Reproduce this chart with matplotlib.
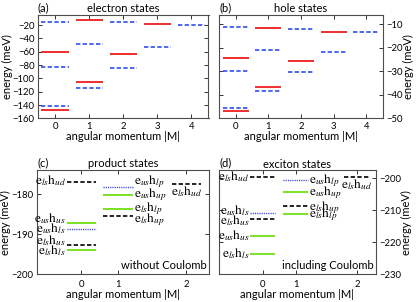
import numpy as np
import matplotlib
matplotlib.use("Agg")
import matplotlib.pyplot as plt

plt.rcParams['font.family'] = ['Lato', 'DejaVu Sans']
plt.rcParams['mathtext.fontset'] = 'stix'

# electron states (a)
elec_bright_m = [0, 0, 1, 1, 2, 3]
elec_bright_e = [-60, -147, -12, -106, -64, -18]
elec_dark_m = [0, 0, 0, 1, 1, 2, 2, 3, 4]
elec_dark_e = [-15, -83, -142, -49, -115, -16, -85, -53, -20]

# hole states (b)
hole_bright_m = [0, 0, 1, 1, 2, 3]
hole_bright_e = [-24.4, -46.9, -11.4, -36.7, -25.5, -13.3]
hole_dark_m = [0, 0, 0, 1, 1, 2, 2, 3, 4]
hole_dark_e = [-11.1, -30.0, -45.6, -20.8, -38.1, -11.8, -30.2, -21.8, -13.2]

# product / exciton states (c), (d)
pair_m = [0, 0, 0, 0, 0, 1, 1, 1, 1, 2]
pair_kind = ['dark', 'bright', 'dot', 'dark', 'bright',
             'dot', 'bright', 'bright', 'dark', 'dark']
pair_label = [r'$\mathrm{e}_{ls}\mathrm{h}_{ud}$', r'$\mathrm{e}_{us}\mathrm{h}_{us}$',
              r'$\mathrm{e}_{us}\mathrm{h}_{ls}$', r'$\mathrm{e}_{ls}\mathrm{h}_{us}$',
              r'$\mathrm{e}_{ls}\mathrm{h}_{ls}$', r'$\mathrm{e}_{us}\mathrm{h}_{lp}$',
              r'$\mathrm{e}_{us}\mathrm{h}_{up}$', r'$\mathrm{e}_{ls}\mathrm{h}_{lp}$',
              r'$\mathrm{e}_{ls}\mathrm{h}_{up}$', r'$\mathrm{e}_{ls}\mathrm{h}_{ud}$']
prod_e = [-177.0, -187.3, -188.7, -192.6, -193.9, -178.3, -180.2, -183.6, -185.4, -177.6]
exc_e = [-199.8, -218.0, -211.0, -212.9, -223.8, -200.5, -204.5, -211.3, -208.7, -199.8]

m_ticks = [0, 1, 2, 3, 4]
pair_ticks = [0, 1, 2]

# layout of the labels next to the levels (meV shift)
prod_dy = [0.3, 1.1, 0.0, 0.9, -0.3, 1.3, 0.1, 0.0, -1.0, -1.9]
exc_dy = [0.3, 0.0, 0.8, -0.5, 0.2, -0.2, 0.0, -0.1, -0.6, -2.1]
pair_pos = {0: 0.0, 1: 1.0, 2: 2.85}   # x position of each |M| column

RED = '#ee1c1c'
BLUE = '#2f4ff0'
GREEN = '#66dd00'
STYLE = {
    'dark': dict(color='k', linestyle=(0, (2.6, 1.4)), linewidth=1.2),
    'bright': dict(color=GREEN, linestyle='-', linewidth=1.2),
    'dot': dict(color='#3040e0', linestyle=(0, (0.8, 0.8)), linewidth=1.0),
}
FS = 8
TFS = 6.8
LFS = 9.5


def style_axes(ax, right=False):
    ax.tick_params(direction='in', length=3, width=0.7, top=True, right=True,
                   labelsize=TFS, pad=2.5, colors='0.2')
    ax.tick_params(labelcolor='k')
    for s in ax.spines.values():
        s.set_color('0.3')
        s.set_linewidth(0.8)
    if right:
        ax.yaxis.tick_right()
        ax.yaxis.set_ticks_position('both')
        ax.yaxis.set_label_position('right')
    ax.set_xlabel('angular momentum |M|', fontsize=FS, labelpad=0)
    ax.set_ylabel('energy (meV)', fontsize=FS, labelpad=0,
                  rotation=90)


def single_states(ax, bm, be, dm, de, tag, title, ylim, yticks, right):
    bm = np.array(bm)
    dm = np.array(dm)
    ax.hlines(be, bm - 0.4, bm + 0.4, color=RED, linewidth=1.3)
    ax.hlines(de, dm - 0.4, dm + 0.4, color=BLUE, linewidth=1.2,
              linestyles=[(0, (2.6, 1.4))])
    ax.set_xlim(-0.5, 4.5)
    ax.set_ylim(*ylim)
    ax.set_xticks(m_ticks)
    ax.set_yticks(yticks)
    style_axes(ax, right)
    ax.set_title(title, fontsize=FS, pad=2)
    ax.text(0.0, 1.015, tag, transform=ax.transAxes, fontsize=FS, va='bottom')


def pair_states(ax, energies, dys, tag, title, note, xlim, ylim, yticks, right, half):
    for m, e, kind, lab, dy in zip(pair_m, energies, pair_kind, pair_label, dys):
        x = pair_pos[m]
        ax.hlines(e, x - half, x + half, **STYLE[kind])
        if m == 0:
            ax.text(x - half - 0.02, e + dy, lab, ha='right', va='center', fontsize=LFS)
        elif m == 1:
            ax.text(x + half + 0.02, e + dy, lab, ha='left', va='center', fontsize=LFS)
        else:
            ax.text(x, e + dy, lab, ha='center', va='center', fontsize=LFS)
    ax.set_xlim(*xlim)
    ax.set_ylim(*ylim)
    ax.set_xticks([pair_pos[m] for m in pair_ticks])
    ax.set_xticklabels([str(m) for m in pair_ticks])
    ax.set_yticks(yticks)
    style_axes(ax, right)
    ax.tick_params(axis='x', pad=4)
    ax.set_title(title, fontsize=FS, pad=2)
    ax.text(0.0, 1.015, tag, transform=ax.transAxes, fontsize=FS, va='bottom')
    ax.text(0.985, 0.08, note, transform=ax.transAxes, fontsize=FS,
            ha='right', va='center')


fig = plt.figure(figsize=(4.16, 3.02), dpi=100)
W, H = 416.0, 302.0
ax_a = fig.add_axes([38 / W, 1 - 118.5 / H, 170.5 / W, 103.5 / H])
ax_b = fig.add_axes([219.3 / W, 1 - 118.5 / H, 163.4 / W, 103.5 / H])
ax_c = fig.add_axes([37 / W, 1 - 274.3 / H, 172 / W, 104.3 / H])
ax_d = fig.add_axes([219 / W, 1 - 274.3 / H, 156.7 / W, 104 / H])

single_states(ax_a, elec_bright_m, elec_bright_e, elec_dark_m, elec_dark_e,
              '(a)', 'electron states', (-160, -5), np.arange(-160, -10, 20), False)
single_states(ax_b, hole_bright_m, hole_bright_e, hole_dark_m, hole_dark_e,
              '(b)', 'hole states', (-50, -6), np.arange(-50, -5, 10), True)
pair_states(ax_c, prod_e, prod_dy, '(c)', 'product states', 'without Coulomb',
            (-1.2, 3.46), (-200, -174), [-200, -190, -180], False, 0.4)
pair_states(ax_d, exc_e, exc_dy, '(d)', 'exciton states', 'including Coulomb',
            (-1.32, 3.42), (-230, -197.6), [-230, -220, -210, -200], True, 0.38)

fig.savefig('out.png', dpi=100)
